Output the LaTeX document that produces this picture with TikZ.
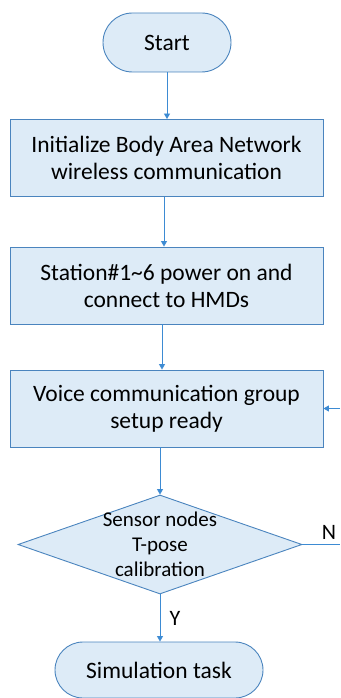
\documentclass[tikz,border=0pt]{standalone}
\usepackage{fontspec}
\setmainfont{Carlito}
\usetikzlibrary{shapes.geometric,arrows.meta}
\definecolor{boxfill}{HTML}{DDEBF7}
\definecolor{boxline}{HTML}{4A84BE}
\definecolor{flowline}{HTML}{3D8BD3}
\tikzset{
  every node/.style={font=\fontsize{23.5}{27}\selectfont, text=black},
  terminal/.style={draw=boxline, fill=boxfill, line width=0.9pt, rectangle,
    inner sep=0pt},
  process/.style={draw=boxline, fill=boxfill, line width=0.9pt, rectangle,
    inner sep=0pt, minimum width=313pt, minimum height=77pt, align=center},
  decision/.style={draw=boxline, fill=boxfill, line width=0.9pt, diamond,
    inner sep=0pt, minimum width=284pt, minimum height=99pt},
  arr/.style={draw=flowline, line width=0.9pt,
    -{Triangle[width=6pt,length=5.5pt]}},
  plainline/.style={draw=flowline, line width=0.9pt},
  lbl/.style={font=\fontsize{22}{26}\selectfont}
}
\begin{document}
\begin{tikzpicture}[x=1pt, y=-1pt]
\useasboundingbox (0,0) rectangle (340,698);

% terminals and process boxes
\node[terminal, minimum width=128pt, minimum height=59pt, rounded corners=29.5pt]
  (start) at (167,42.5) {Start};
\node[process] (init) at (166.5,158)
  {Initialize Body Area Network\\wireless communication};
\node[process] (station) at (166.5,285.5)
  {Station\#1\textasciitilde 6 power on and\\connect to HMDs};
\node[process] (voice) at (166.5,408.5)
  {Voice communication group\\setup ready};

% decision
\node[decision] (dec) at (160,544.5) {};
\node[align=center, font=\fontsize{21}{25}\selectfont] (dectext) at (dec.center)
  {Sensor nodes\\T-pose\\calibration};

\node[terminal, minimum width=208pt, minimum height=56pt, rounded corners=28pt]
  (sim) at (159,670) {Simulation task};

% connectors
\draw[arr] (start.south) -- (start.south |- init.north);
\draw[arr] ([xshift=-2.5pt]init.south) -- ([xshift=-2.5pt]init.south |- station.north);
\draw[arr] ([xshift=-4.5pt]station.south) -- ([xshift=-4.5pt]station.south |- voice.north);
\draw[arr] (voice.south -| dec.north) -- (dec.north);
\draw[arr] (dec.south) -- (dec.south |- sim.north);

% "no" branch running off to the right and back into the voice setup
\coordinate (nout) at (340,544.5);
\coordinate (nin) at (340,408.5);
\draw[plainline] (dec.east) -- (nout);
\draw[arr] (nin) -- (voice.east);

% branch labels
\node[lbl] (nlabel) at (329,532) {N};
\node[lbl] (ylabel) at (175,618) {Y};
\end{tikzpicture}
\end{document}
